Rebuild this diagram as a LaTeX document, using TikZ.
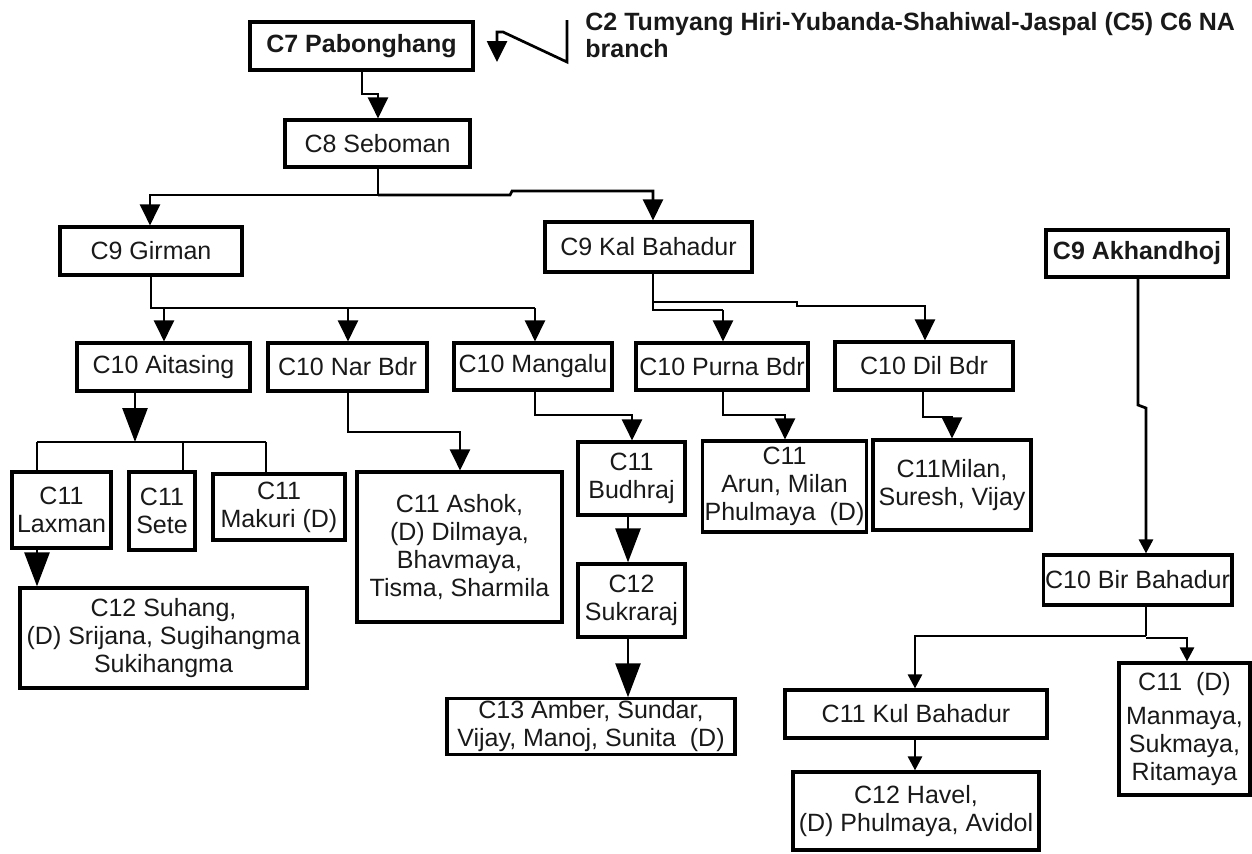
\documentclass[tikz,border=0pt]{standalone}
\usepackage{fontspec}
\setmainfont{Liberation Sans}
\usetikzlibrary{arrows.meta}
\newcommand{\mybox}[7][]{%
  \node[box,#1,minimum width={(#4-#3)*0.5pt},minimum height={(#6-#5)*0.5pt}] (#2) at ({(#3+#4)/2},{(#5+#6)/2}) {#7};}
\begin{document}
\begin{tikzpicture}[x=0.5pt,y=-0.5pt,
  box/.style={draw=black,line width=1.6pt,rectangle,inner sep=1pt,align=center,
    font=\fontsize{12.5}{14}\selectfont,text=black!90},
  ln/.style={draw=black,line width=1.35pt},
  sarr/.tip={Triangle[length=10.5pt,width=10pt]},
  bigarr/.tip={Triangle[length=17pt,width=12.5pt]},
  tinyarr/.tip={Triangle[length=7pt,width=7pt]}]
\useasboundingbox (0,0) rectangle (1252,853);
% boxes
\mybox[font=\fontsize{12.5}{14}\selectfont\bfseries]{c7}{250}{473}{22}{70}{C7 Pabonghang}
\mybox{c8}{285}{470}{120}{167}{C8 Seboman}
\mybox{girman}{60}{242}{227}{275}{C9 Girman}
\mybox{kal}{545}{752}{222}{272}{C9 Kal Bahadur}
\mybox[font=\fontsize{12.5}{14}\selectfont\bfseries]{akh}{1046}{1228}{230}{277}{C9 Akhandhoj}
\mybox{aitasing}{77}{250}{343}{391}{C10 Aitasing}
\mybox{narbdr}{268}{427}{343}{391}{C10 Nar Bdr}
\mybox{mangalu}{454}{612}{343}{390}{C10 Mangalu}
\mybox{purna}{636}{808}{343}{390}{C10 Purna Bdr}
\mybox{dil}{835}{1013}{342}{390}{C10 Dil Bdr}
\mybox{laxman}{12}{111}{472}{548}{C11\\Laxman}
\mybox{sete}{129}{195}{472}{550}{C11\\Sete}
\mybox{makuri}{213}{345}{474}{540}{C11\\Makuri (D)}
\mybox{ashok}{357}{562}{472}{622}{C11 Ashok,\\(D) Dilmaya,\\Bhavmaya,\\Tisma, Sharmila}
\mybox{budhraj}{578}{685}{442}{515}{C11\\Budhraj}
\mybox{sukraraj}{578}{685}{564}{637}{C12\\Sukraraj}
\mybox{amber}{447}{735}{699}{754}{C13 Amber, Sundar,\\Vijay, Manoj, Sunita\ \ (D)}
\mybox{arun}{703}{866}{441}{532}{C11\\Arun, Milan\\Phulmaya\ \ (D)}
\mybox{milan}{873}{1031}{440}{530}{C11Milan,\\Suresh, Vijay}
\mybox{suhang}{20}{307}{588}{688}{C12 Suhang,\\(D) Srijana, Sugihangma\\Sukihangma}
\mybox{bir}{1047}{1228}{555}{605}{C10 Bir Bahadur}
\mybox{kul}{785}{1047}{690}{738}{C11 Kul Bahadur}
\mybox{havel}{793}{1039}{772}{850}{C12 Havel,\\(D) Phulmaya, Avidol}
\mybox{manmaya}{1119}{1250}{663}{795}{C11\ \ (D)\\[3pt]Manmaya,\\Sukmaya,\\Ritamaya}
% header
\node[anchor=west,align=left,inner sep=0pt,font=\fontsize{12.5}{13.5}\selectfont\bfseries,text=black!90] (head) at (585,35) {C2 Tumyang Hiri-Yubanda-Shahiwal-Jaspal (C5) C6 NA\\branch};
\coordinate (zz) at (567,20);
\draw[ln,-sarr] (zz) -- (567,62) -- (503,32) -- (497,32) -- (497,62);
% connectors
\draw[ln,-sarr] (362,0 |- c7.south) -- (362,94) -- (378,94) -- (378,0 |- c8.north);
\draw[ln] (378,0 |- c8.south) -- (378,195);
\draw[ln,-sarr] (378,195) -- (150,195) -- (150,0 |- girman.north);
\draw[ln,-sarr] (378,195) -- (510,195) -- (512,191) -- (653,191) -- (653,0 |- kal.north);
\draw[ln] (151,0 |- girman.south) -- (151,308) -- (535,308);
\draw[ln,-sarr] (164,308) -- (164,0 |- aitasing.north);
\draw[ln,-sarr] (348,308) -- (348,0 |- narbdr.north);
\draw[ln,-sarr] (535,308) -- (535,0 |- mangalu.north);
\draw[ln] (653,0 |- kal.south) -- (653,310) -- (723,310);
\draw[ln,-sarr] (723,310) -- (723,0 |- purna.north);
\draw[ln,-sarr] (653,302) -- (797,302) -- (797,306) -- (925,306) -- (925,0 |- dil.north);
\draw[ln,-bigarr] (135,0 |- aitasing.south) -- (135,442);
\draw[ln] (37,442) -- (266,442);
\draw[ln] (37,442) -- (37,0 |- laxman.north);
\draw[ln] (183,442) -- (183,0 |- sete.north);
\draw[ln] (266,442) -- (266,0 |- makuri.north);
\draw[ln,-bigarr] (37,0 |- laxman.south) -- (37,0 |- suhang.north);
\draw[ln,-sarr] (348,0 |- narbdr.south) -- (348,432) -- (460,432) -- (460,0 |- ashok.north);
\draw[ln,-sarr] (535,0 |- mangalu.south) -- (535,415) -- (632,415) -- (632,0 |- budhraj.north);
\draw[ln,-bigarr] (628,0 |- budhraj.south) -- (628,0 |- sukraraj.north);
\draw[ln,-bigarr] (628,0 |- sukraraj.south) -- (628,0 |- amber.north);
\draw[ln,-sarr] (723,0 |- purna.south) -- (723,415) -- (785,415) -- (785,0 |- arun.north);
\draw[ln,-sarr] (923,0 |- dil.south) -- (923,417) -- (952,417) -- (952,0 |- milan.north);
\draw[ln,-tinyarr] (1138,0 |- akh.south) -- (1138,405) -- (1146,408) -- (1146,0 |- bir.north);
\draw[ln] (1146,0 |- bir.south) -- (1146,636);
\draw[ln,-tinyarr] (1146,636) -- (915,636) -- (915,0 |- kul.north);
\draw[ln,-tinyarr] (1146,638) -- (1187,638) -- (1187,0 |- manmaya.north);
\draw[ln,-tinyarr] (915,0 |- kul.south) -- (915,0 |- havel.north);
\end{tikzpicture}
\end{document}
